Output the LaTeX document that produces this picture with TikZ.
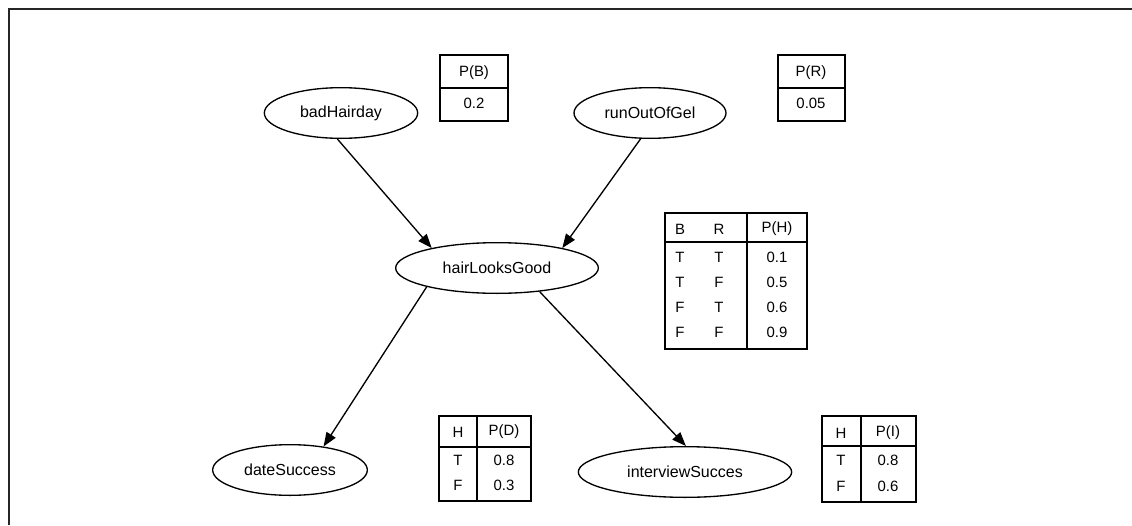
\documentclass[tikz,border=0pt]{standalone}
\usepackage{fontspec}
\setmainfont{Liberation Sans}
\usetikzlibrary{arrows.meta,shapes.geometric}

\begin{document}
\begin{tikzpicture}[x=0.75pt,y=-0.75pt,
  var/.style={draw,ellipse,line width=1pt,inner sep=0pt,minimum height=38pt,
    font=\fontsize{12}{14}\selectfont},
  link/.style={line width=1pt,-{Triangle[length=10.5pt,width=8pt]}},
  cpt/.style={line width=1.3pt},
  cell/.style={inner sep=0pt,font=\fontsize{11.2}{13}\selectfont}]

\useasboundingbox (0,0) rectangle (1132,525);

% page frame (left and top rules)
\draw[line width=1.6pt,black!85] (9,525) -- (9,9) -- (1132,9);

% variables
\node[var,minimum width=115pt] (bad)   at (341,113) {badHairday};
\node[var,minimum width=114pt] (run)   at (650,113) {runOutOfGel};
\node[var,minimum width=152pt] (hair)  at (497,268) {hairLooksGood};
\node[var,minimum width=116pt] (date)  at (290,470) {dateSuccess};
\node[var,minimum width=160pt] (inter) at (685,472) {interviewSucces};

% dependencies
\draw[link] (bad.262)  -- (hair.163);
\draw[link] (run.250)  -- (hair.17);
\draw[link] (hair.195) -- (date.35);
\draw[link] (hair.331) -- (inter.88);

% P(B)
\draw[cpt] (440,55) rectangle (508,121);
\draw[cpt] (440,88) -- (508,88);
\node[cell] (pbh) at (474,73)  {P(B)};
\node[cell] (pbv) at (474,103) {0.2};

% P(R)
\draw[cpt] (778,55) rectangle (845,121);
\draw[cpt] (778,88) -- (845,88);
\node[cell] (prh) at (811,73)  {P(R)};
\node[cell] (prv) at (811,103) {0.05};

% P(H | B, R)
\draw[cpt] (665,213) rectangle (807,349);
\draw[cpt] (747,213) -- (747,349);
\draw[cpt] (665,242) -- (807,242);
\node[cell] (hb)  at (680,229) {B};
\node[cell] (hr)  at (719,229) {R};
\node[cell] (hp)  at (777,229) {P(H)};
\node[cell] (hb1) at (680,257) {T};
\node[cell] (hr1) at (719,257) {T};
\node[cell] (hp1) at (777,257) {0.1};
\node[cell] (hb2) at (680,282) {T};
\node[cell] (hr2) at (719,282) {F};
\node[cell] (hp2) at (777,282) {0.5};
\node[cell] (hb3) at (680,307) {F};
\node[cell] (hr3) at (719,307) {T};
\node[cell] (hp3) at (777,307) {0.6};
\node[cell] (hb4) at (680,332) {F};
\node[cell] (hr4) at (719,332) {F};
\node[cell] (hp4) at (777,332) {0.9};

% P(D | H)
\draw[cpt] (439,416) rectangle (531,501);
\draw[cpt] (477,416) -- (477,501);
\draw[cpt] (439,447) -- (531,447);
\node[cell] (dh)  at (458,432) {H};
\node[cell] (dp)  at (504,432) {P(D)};
\node[cell] (dh1) at (458,460) {T};
\node[cell] (dp1) at (504,460) {0.8};
\node[cell] (dh2) at (458,485) {F};
\node[cell] (dp2) at (504,485) {0.3};

% P(I | H)
\draw[cpt] (822,416) rectangle (916,502);
\draw[cpt] (861,416) -- (861,502);
\draw[cpt] (822,446) -- (916,446);
\node[cell] (ih)  at (841,433) {H};
\node[cell] (ip)  at (888,433) {P(I)};
\node[cell] (ih1) at (841,460) {T};
\node[cell] (ip1) at (888,460) {0.8};
\node[cell] (ih2) at (841,486) {F};
\node[cell] (ip2) at (888,486) {0.6};
\end{tikzpicture}
\end{document}
